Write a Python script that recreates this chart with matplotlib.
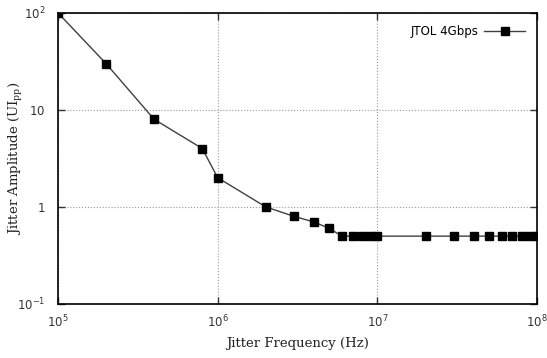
import numpy as np
import matplotlib
matplotlib.use("Agg")
import matplotlib.pyplot as plt
from matplotlib.ticker import FixedLocator, NullLocator

plt.rcParams['font.family'] = 'DejaVu Serif'
plt.rcParams['mathtext.fontset'] = 'dejavusans'

freq = [1e5, 2e5, 4e5, 8e5, 1e6, 2e6, 3e6, 4e6, 5e6, 6e6, 7e6, 8e6, 9e6, 1e7,
        2e7, 3e7, 4e7, 5e7, 6e7, 7e7, 8e7, 9e7, 1e8]
amp = [100, 30, 8, 4, 2, 1, 0.8, 0.7, 0.6, 0.5, 0.5, 0.5, 0.5, 0.5,
       0.5, 0.5, 0.5, 0.5, 0.5, 0.5, 0.5, 0.5, 0.5]

xticks = [1e5, 1e6, 1e7, 1e8]
xlabels = ['$10^{5}$', '$10^{6}$', '$10^{7}$', '$10^{8}$']
yticks = [0.1, 1, 10, 100]
ylabels = ['$10^{-1}$', '$1$', '$10$', '$10^{2}$']

fig = plt.figure(figsize=(5.47, 3.58), dpi=100)
ax = fig.add_axes([0.106, 0.151, 0.876, 0.813])

ax.plot(freq, amp, color='#404040', lw=1.0, marker='s', ms=6,
        mfc='black', mec='black', label='JTOL 4Gbps')

ax.set_xscale('log')
ax.set_yscale('log')
ax.set_xlim(1e5, 1e8)
ax.set_ylim(0.1, 100)

ax.xaxis.set_major_locator(FixedLocator(xticks))
ax.yaxis.set_major_locator(FixedLocator(yticks))
ax.xaxis.set_minor_locator(NullLocator())
ax.yaxis.set_minor_locator(NullLocator())
ax.set_xticklabels(xlabels)
ax.set_yticklabels(ylabels)
ax.tick_params(direction='in', top=True, right=True, length=5, width=1,
               labelsize=8.5, colors='#333333', pad=7)
ax.tick_params(axis='y', pad=9)

ax.grid(True, which='major', linestyle=':', color='#999999', lw=0.8)
for s in ax.spines.values():
    s.set_linewidth(1.2)

ax.set_xlabel('Jitter Frequency (Hz)', fontsize=9.5, color='#222222')
ax.set_ylabel('Jitter Amplitude ($\\mathregular{UI_{pp}}$)', fontsize=9.5,
              color='#222222')
ax.xaxis.set_label_coords(0.5, -0.115)
ax.yaxis.set_label_coords(-0.068, 0.5)

leg = ax.legend(loc='upper right', frameon=False, markerfirst=False,
                prop={'family': 'DejaVu Sans', 'size': 8.5}, handlelength=3.5,
                handletextpad=0.5, borderaxespad=0.6)

plt.savefig('out.png', dpi=100)
